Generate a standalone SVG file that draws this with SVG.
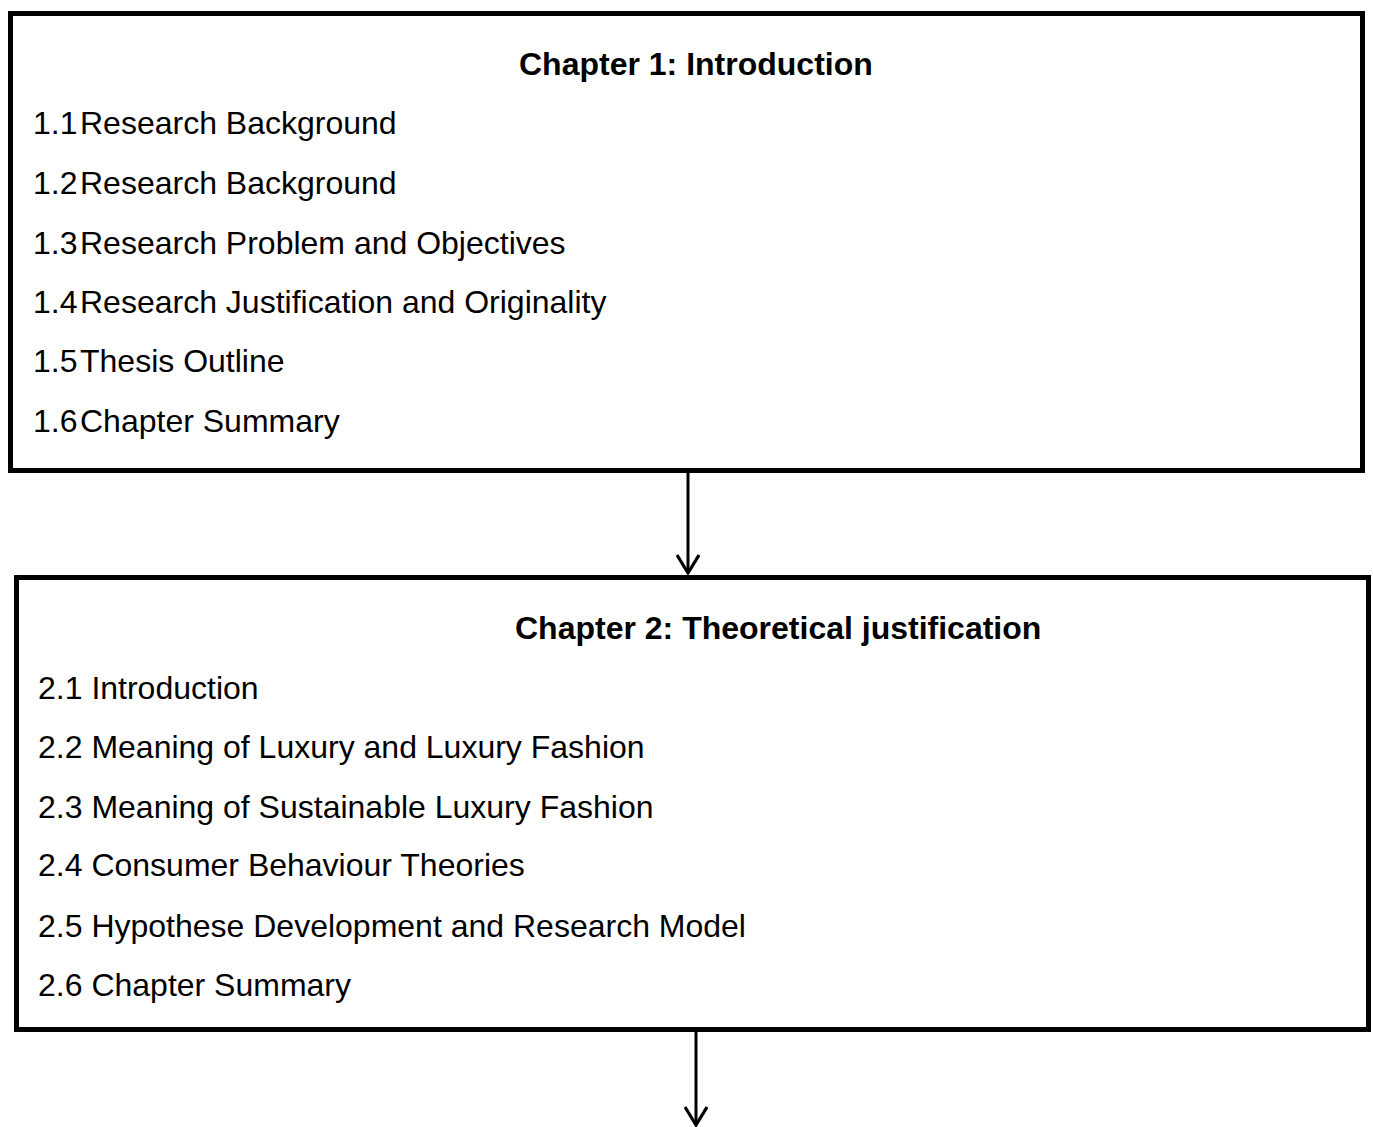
<svg xmlns="http://www.w3.org/2000/svg" width="1373" height="1127" viewBox="0 0 1373 1127">
  <style>
    .box { fill: #ffffff; stroke: #000000; stroke-width: 5; }
    .title { font-family: "Liberation Sans", Arial, sans-serif; font-size: 32px; font-weight: bold; fill: #000000; }
    .item { font-family: "Liberation Sans", Arial, sans-serif; font-size: 32px; fill: #000000; }
    .link { fill: none; stroke: #000000; stroke-width: 3; }
  </style>
  <defs>
    <marker id="arrow" viewBox="0 0 24 26" refX="20" refY="12" markerWidth="24" markerHeight="26" markerUnits="userSpaceOnUse" orient="auto">
      <path d="M2,1 L20,12 L2,23" fill="none" stroke="#000000" stroke-width="3.2"/>
    </marker>
  </defs>
  <rect width="1373" height="1127" fill="#ffffff"/>

  <!-- Chapter 1 -->
  <g id="chapter1">
    <rect class="box" x="10.5" y="13.5" width="1352" height="457"/>
    <text class="title" x="519" y="75">Chapter 1: Introduction</text>
    <text class="item" x="33" y="134">1.1<tspan x="80">Research Background</tspan></text>
    <text class="item" x="33" y="194">1.2<tspan x="80">Research Background</tspan></text>
    <text class="item" x="33" y="254">1.3<tspan x="80">Research Problem and Objectives</tspan></text>
    <text class="item" x="33" y="313">1.4<tspan x="80">Research Justification and Originality</tspan></text>
    <text class="item" x="33" y="372">1.5<tspan x="80">Thesis Outline</tspan></text>
    <text class="item" x="33" y="432">1.6<tspan x="80">Chapter Summary</tspan></text>
  </g>

  <!-- Chapter 2 -->
  <g id="chapter2">
    <rect class="box" x="16.5" y="577.5" width="1352" height="452"/>
    <text class="title" x="515" y="639">Chapter 2: Theoretical justification</text>
    <text class="item" x="38" y="699">2.1 Introduction</text>
    <text class="item" x="38" y="758">2.2 Meaning of Luxury and Luxury Fashion</text>
    <text class="item" x="38" y="818">2.3 Meaning of Sustainable Luxury Fashion</text>
    <text class="item" x="38" y="876">2.4 Consumer Behaviour Theories</text>
    <text class="item" x="38" y="937">2.5 Hypothese Development and Research Model</text>
    <text class="item" x="38" y="996">2.6 Chapter Summary</text>
  </g>

  <!-- Connectors -->
  <g id="connectors">
    <line class="link" x1="688" y1="473" x2="688" y2="573" marker-end="url(#arrow)"/>
    <line class="link" x1="696" y1="1032" x2="696" y2="1125" marker-end="url(#arrow)"/>
  </g>
</svg>
